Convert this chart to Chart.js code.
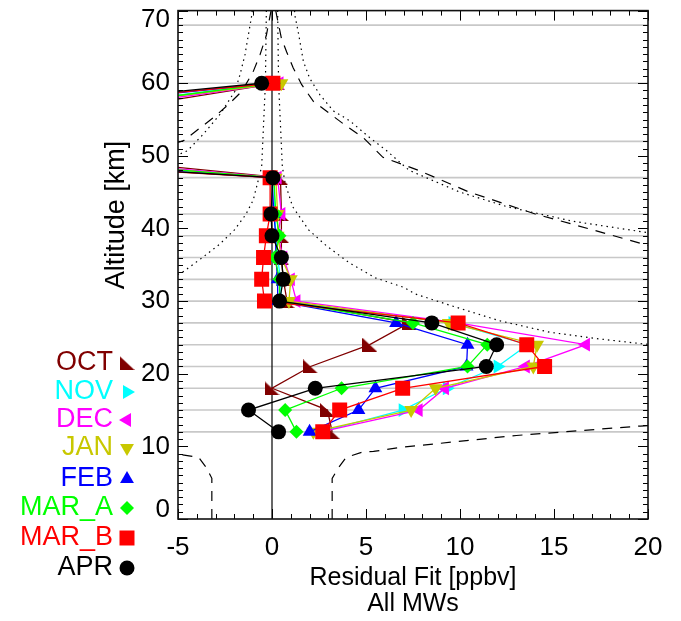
<!DOCTYPE html>
<html><head><meta charset="utf-8">
<script src="https://cdn.jsdelivr.net/npm/chart.js@4/dist/chart.umd.min.js"></script>
<style>html,body{margin:0;padding:0;background:#fff;}#wrap{width:681px;height:621px;}</style>
</head><body><div id="wrap"><canvas id="c" width="681" height="621"></canvas></div>
<script>
// ---------- data ----------
const altitudes = [12, 15, 18, 21, 24, 27, 30, 33, 36, 39, 42, 47, 52, 60];
const gridAltitudes = [12, 15, 18, 21, 24, 27, 30, 33, 36, 39, 42, 47, 52, 60, 68];
const seriesNames = ['OCT', 'NOV', 'DEC', 'JAN', 'FEB', 'MAR_A', 'MAR_B', 'APR'];
const OCT   = [3.2, 2.95, 0.0, 2.05, 5.2, 7.3, 0.8, 0.6, 0.5, 0.5, 0.5, 0.45, -19, 0.3];
const NOV   = [2.6, 6.95, 9.3, 12.0, 13.6, 9.6, 0.5, 0.45, 0.3, 0.2, 0.15, 0.1, -25, 0.2];
const DEC   = [2.6, 7.8, 9.2, 13.5, 16.7, 9.9, 1.3, 1.0, 0.6, 0.3, 0.5, 0.3, -22, 0.4];
const JAN   = [2.2, 7.4, 8.7, 13.9, 14.1, 9.4, 0.9, 1.0, 0.5, 0.3, 0.3, 0.2, -25, 0.5];
const FEB   = [2.0, 4.6, 5.5, 10.35, 10.4, 6.6, 0.3, 0.3, 0.2, 0.2, 0.1, 0.0, -30, 0.0];
const MAR_A = [1.3, 0.7, 3.7, 10.4, 11.45, 7.5, 0.4, 0.4, 0.15, 0.4, 0.2, 0.1, -24, 0.1];
const MAR_B = [2.7, 3.6, 6.95, 14.5, 13.55, 9.9, -0.4, -0.55, -0.45, -0.3, -0.1, -0.1, -32, 0.05];
const APR   = [0.35, -1.25, 2.3, 11.4, 11.95, 8.5, 0.4, 0.6, 0.5, 0.0, -0.05, 0.05, -32, -0.55];
const seriesValues = [OCT, NOV, DEC, JAN, FEB, MAR_A, MAR_B, APR];

// reference envelopes (altitude, value)
const innerDotRightAlt = [70, 60, 48.5, 46.2, 43, 39.8, 37.6, 35.3, 33.2, 31.9, 31, 29.4, 27.3, 25.7, 24.8, 24.15, 23.5];
const innerDotRightVal = [0.3, 0.35, 0.55, 0.7, 1.1, 1.95, 2.9, 4.1, 5.5, 7.0, 7.6, 9.5, 12.1, 14.8, 17.4, 19.6, 22];
const innerDotLeftAlt  = [70, 60, 48.5, 43.9, 41.9, 39.8, 37.8, 36, 33.9, 33.4];
const innerDotLeftVal  = [-0.3, -0.35, -0.55, -1.0, -1.4, -2.0, -2.8, -3.7, -4.8, -5.3];
const outerDotRightAlt = [70, 69.3, 67, 63, 60.7, 58.4, 56.2, 54.8, 52.5, 50.7, 48, 45, 43, 41, 39.3];
const outerDotRightVal = [1.2, 1.22, 1.4, 1.67, 2.0, 2.55, 3.26, 4.15, 5.2, 6.1, 7.3, 10, 12.5, 16, 20.3];
const outerDotLeftAlt  = [70, 69.3, 66.6, 63.9, 61.2, 58.9, 55.7, 53, 50.7, 49.8];
const outerDotLeftVal  = [-1.05, -1.08, -1.26, -1.44, -1.7, -1.97, -2.77, -3.65, -4.5, -5.3];
const upperDashRightAlt = [70, 69.3, 66.2, 64.3, 62.1, 59.8, 57.5, 54.4, 52.5, 49.8, 48, 45, 42, 40, 37.3];
const upperDashRightVal = [0.2, 0.25, 0.5, 0.78, 1.13, 1.58, 2.2, 3.8, 4.86, 5.9, 7.8, 10.5, 14, 16.8, 20.5];
const upperDashLeftAlt  = [70, 66.6, 63.9, 61.6, 58.9, 57.1, 55.3, 53.9, 52.1, 51.7];
const upperDashLeftVal  = [-0.05, -0.3, -0.64, -1.0, -1.6, -2.3, -3.1, -3.8, -4.7, -5.2];
const lowerDashRightAlt = [0, 5.6, 7.1, 8.5, 9.2, 9.3, 9.85, 11.5, 12.8, 12.9];
const lowerDashRightVal = [3.2, 3.2, 3.55, 3.95, 4.8, 5.4, 6.8, 13, 19.6, 20.3];
const lowerDashLeftAlt  = [0, 5.6, 7.1, 8.5, 9.0];
const lowerDashLeftVal  = [-3.2, -3.2, -3.5, -3.9, -5.2];

const xTickValues = [-5, 0, 5, 10, 15, 20];
const yTickValues = [0, 10, 20, 30, 40, 50, 60, 70];

// ---------- styles ----------
const FONT = "'Liberation Sans', Arial, Helvetica, sans-serif";
function makeOctMarker(color, w, h) {
  const cv = document.createElement('canvas');
  cv.width = w; cv.height = h;
  const g = cv.getContext('2d');
  g.fillStyle = color;
  g.beginPath(); g.moveTo(0, 0); g.lineTo(0, h); g.lineTo(w, h); g.closePath(); g.fill();
  return cv;
}
const seriesStyles = [
  {color: '#800000', pointStyle: makeOctMarker('#800000', 15, 14), rotation: 0, radius: 8},
  {color: '#00ffff', pointStyle: 'triangle', rotation: 90, radius: 8},
  {color: '#ff00ff', pointStyle: 'triangle', rotation: -90, radius: 8},
  {color: '#c8c800', pointStyle: 'triangle', rotation: 180, radius: 8},
  {color: '#0000ff', pointStyle: 'triangle', rotation: 0, radius: 8},
  {color: '#00ff00', pointStyle: 'rectRot', rotation: 0, radius: 7},
  {color: '#ff0000', pointStyle: 'rect', rotation: 0, radius: 10.6},
  {color: '#000000', pointStyle: 'circle', rotation: 0, radius: 7.5}
];

function pts(alts, vals) { return alts.map((a, i) => ({x: vals[i], y: a})); }

const datasets = [];
seriesNames.forEach((name, i) => {
  const st = seriesStyles[i];
  datasets.push({
    label: name,
    data: pts(altitudes, seriesValues[i]),
    borderColor: st.color, backgroundColor: st.color,
    pointBackgroundColor: st.color, pointBorderColor: st.color,
    pointStyle: st.pointStyle, rotation: st.rotation,
    pointRadius: st.radius, pointBorderWidth: 0,
    borderWidth: 1.3, showLine: true, fill: false, tension: 0,
    order: 8 - i
  });
});
function envelope(label, alts, vals, dash) {
  return {label, data: pts(alts, vals), borderColor: '#000', borderWidth: 1.2,
    borderDash: dash, pointRadius: 0, showLine: true, fill: false, tension: 0, order: 20};
}
const DOT = [1.5, 4], DASH = [10, 8];
datasets.push(envelope('inner dotted +', innerDotRightAlt, innerDotRightVal, DOT));
datasets.push(envelope('inner dotted -', innerDotLeftAlt, innerDotLeftVal, DOT));
datasets.push(envelope('outer dotted +', outerDotRightAlt, outerDotRightVal, DOT));
datasets.push(envelope('outer dotted -', outerDotLeftAlt, outerDotLeftVal, DOT));
datasets.push(envelope('upper dashed +', upperDashRightAlt, upperDashRightVal, DASH));
datasets.push(envelope('upper dashed -', upperDashLeftAlt, upperDashLeftVal, DASH));
datasets.push(envelope('lower dashed +', lowerDashRightAlt, lowerDashRightVal, DASH));
datasets.push(envelope('lower dashed -', lowerDashLeftAlt, lowerDashLeftVal, DASH));
datasets.push({label: 'zero', data: [{x: 0, y: 0}, {x: 0, y: 70}], borderColor: '#000', borderWidth: 1.2,
  pointRadius: 0, showLine: true, fill: false, order: 21});

// ---------- plugins ----------
const altGrid = {
  id: 'altGrid',
  beforeDatasetsDraw(chart) {
    const {ctx, chartArea: {left, right}, scales: {y}} = chart;
    ctx.save(); ctx.strokeStyle = '#c8c8c8'; ctx.lineWidth = 1.6;
    gridAltitudes.forEach(a => {
      const py = y.getPixelForValue(a);
      ctx.beginPath(); ctx.moveTo(left, py); ctx.lineTo(right, py); ctx.stroke();
    });
    ctx.restore();
  }
};
const frameTicks = {
  id: 'frameTicks',
  afterDatasetsDraw(chart) {
    const {ctx, chartArea: {left, right, top, bottom}, scales: {x, y}} = chart;
    ctx.save(); ctx.strokeStyle = '#000'; ctx.lineWidth = 1;
    const ln = (a, b, c, d) => { ctx.beginPath(); ctx.moveTo(a, b); ctx.lineTo(c, d); ctx.stroke(); };
    for (let v = x.min; v <= x.max; v += 1) {
      const px = Math.round(x.getPixelForValue(v)) + 0.5;
      const len = (v % 5 === 0) ? 10 : 5;
      ln(px, bottom, px, bottom - len); ln(px, top, px, top + len);
    }
    for (let v = y.min; v <= y.max; v += 1) {
      const py = Math.round(y.getPixelForValue(v)) + 0.5;
      const len = (v % 10 === 0) ? 10 : 5;
      ln(left, py, left + len, py); ln(right, py, right - len, py);
    }
    ctx.lineWidth = 1.6; ctx.strokeStyle = '#111';
    ctx.strokeRect(left, top, right - left, bottom - top);
    ctx.restore();
  }
};
const yEdgeLabels = {
  id: 'yEdgeLabels',
  beforeDraw(chart) {
    const s = chart.scales.y;
    if (!s || typeof s.getLabelItems !== 'function') return;
    s.getLabelItems().forEach(it => {
      if (it.label === '0') it.options.translation[1] -= 9;
      if (it.label === '70') it.options.translation[1] += 9;
    });
  }
};
const legendRowsY = [363, 392, 420, 448, 479, 508, 538, 568];
function drawSymbol(ctx, st, cx, cy) {
  if (Chart.helpers && Chart.helpers.drawPoint) {
    ctx.fillStyle = st.color; ctx.strokeStyle = st.color; ctx.lineWidth = 0;
    Chart.helpers.drawPoint(ctx, {pointStyle: st.pointStyle, rotation: st.rotation, radius: st.radius, borderWidth: 0}, cx, cy);
  }
}
const sideLegend = {
  id: 'sideLegend',
  afterDraw(chart) {
    const ctx = chart.ctx;
    ctx.save();
    ctx.font = '27px ' + FONT; ctx.textAlign = 'right'; ctx.textBaseline = 'middle';
    seriesNames.forEach((name, i) => {
      const st = seriesStyles[i];
      ctx.fillStyle = st.color;
      ctx.fillText(name, 113, legendRowsY[i]);
      drawSymbol(ctx, st, 127, legendRowsY[i]);
    });
    // y axis title
    ctx.translate(117, 215); ctx.rotate(-Math.PI / 2);
    ctx.font = '27px ' + FONT; ctx.fillStyle = '#000'; ctx.textAlign = 'center'; ctx.textBaseline = 'middle';
    ctx.fillText('Altitude [km]', 0, 0);
    ctx.restore();
  }
};

// ---------- chart ----------
new Chart(document.getElementById('c'), {
  type: 'scatter',
  data: {datasets},
  options: {
    responsive: false, animation: false, devicePixelRatio: 1,
    layout: {padding: {left: 0, right: 33, top: 0, bottom: 0}},
    plugins: {legend: {display: false}, tooltip: {enabled: false}},
    scales: {
      x: {
        type: 'linear', min: -5, max: 20,
        afterBuildTicks: s => { s.ticks = xTickValues.map(v => ({value: v})); },
        afterFit: s => { s.height = 102; s.paddingLeft = 0; s.paddingRight = 0; },
        grid: {display: false, drawTicks: false}, border: {display: false},
        ticks: {padding: 13, color: '#000', maxRotation: 0, autoSkip: false, font: {family: FONT, size: 26}},
        title: {display: true, text: ['Residual Fit [ppbv]', 'All MWs'], color: '#000',
          font: {family: FONT, size: 25, lineHeight: '26px'}, padding: {top: 0, bottom: 4}}
      },
      y: {
        type: 'linear', min: 0, max: 70,
        afterBuildTicks: s => { s.ticks = yTickValues.map(v => ({value: v})); },
        afterFit: s => { s.width = 178; s.paddingTop = 0; s.paddingBottom = 0; },
        grid: {display: false, drawTicks: false}, border: {display: false},
        ticks: {padding: 8, color: '#000', autoSkip: false, font: {family: FONT, size: 26}},
        title: {display: false}
      }
    }
  },
  plugins: [altGrid, frameTicks, yEdgeLabels, sideLegend]
});
</script></body></html>
